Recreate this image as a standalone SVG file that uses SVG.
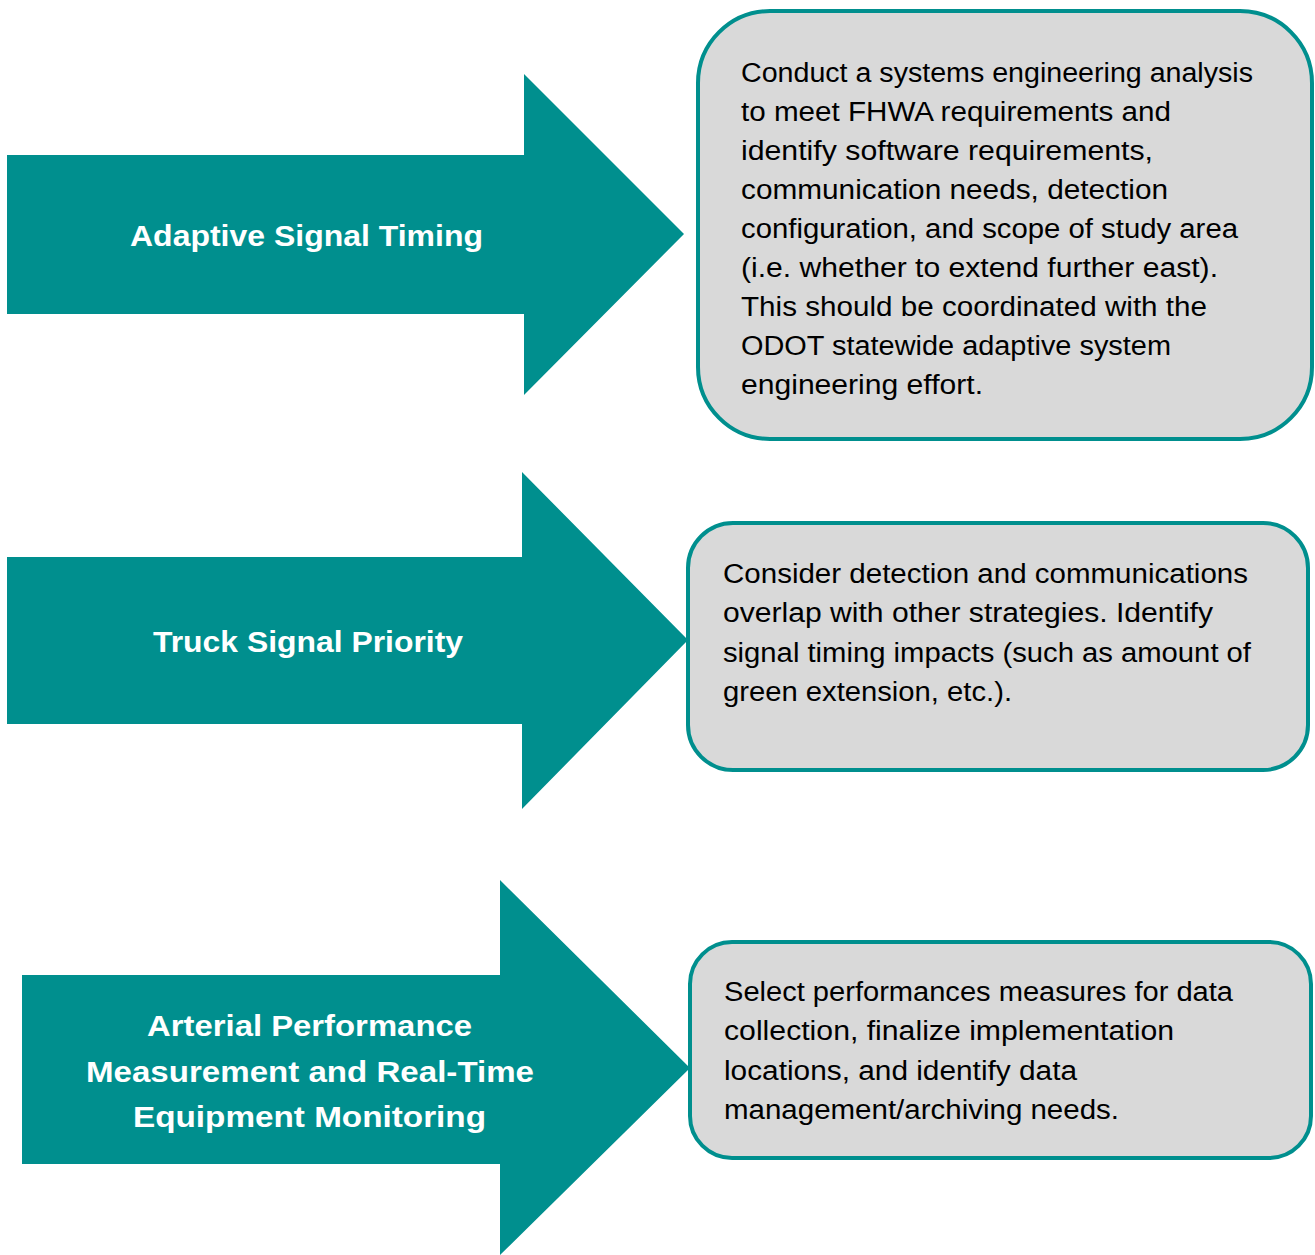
<svg xmlns="http://www.w3.org/2000/svg" width="1315" height="1255" viewBox="0 0 1315 1255">
<style>
.arrow{fill:#008F8E;}
.box{fill:#D9D9D9;stroke:#008F8E;stroke-width:4;}
.lbl{font-family:"Liberation Sans",Arial,sans-serif;font-weight:bold;font-size:30px;fill:#FFFFFF;}
.txt{font-family:"Liberation Sans",Arial,sans-serif;font-size:27px;fill:#000000;}
</style>
<rect width="1315" height="1255" fill="#FFFFFF"/>
<g id="arrow1">
<polygon class="arrow" points="7,155 524,155 524,74 684,234 524,395 524,314 7,314"/>
<text class="lbl" x="130" y="246" textLength="353" lengthAdjust="spacingAndGlyphs">Adaptive Signal Timing</text>
</g>
<g id="arrow2">
<polygon class="arrow" points="7,557 522,557 522,472 688,640 522,809 522,724 7,724"/>
<text class="lbl" x="153" y="652" textLength="310" lengthAdjust="spacingAndGlyphs">Truck Signal Priority</text>
</g>
<g id="arrow3">
<polygon class="arrow" points="22,975 500,975 500,880 690,1068 500,1255 500,1164 22,1164"/>
<text class="lbl" x="147" y="1036" textLength="325" lengthAdjust="spacingAndGlyphs">Arterial Performance</text>
<text class="lbl" x="86" y="1082" textLength="448" lengthAdjust="spacingAndGlyphs">Measurement and Real-Time</text>
<text class="lbl" x="133" y="1127" textLength="353" lengthAdjust="spacingAndGlyphs">Equipment Monitoring</text>
</g>
<g id="box1">
<rect class="box" x="698" y="11" width="614" height="428" rx="72" ry="72"/>
<text class="txt" x="741" y="82" textLength="512" lengthAdjust="spacingAndGlyphs">Conduct a systems engineering analysis</text>
<text class="txt" x="741" y="121" textLength="430" lengthAdjust="spacingAndGlyphs">to meet FHWA requirements and</text>
<text class="txt" x="741" y="160" textLength="412" lengthAdjust="spacingAndGlyphs">identify software requirements,</text>
<text class="txt" x="741" y="199" textLength="427" lengthAdjust="spacingAndGlyphs">communication needs, detection</text>
<text class="txt" x="741" y="238" textLength="497" lengthAdjust="spacingAndGlyphs">configuration, and scope of study area</text>
<text class="txt" x="741" y="277" textLength="477" lengthAdjust="spacingAndGlyphs">(i.e. whether to extend further east).</text>
<text class="txt" x="741" y="316" textLength="466" lengthAdjust="spacingAndGlyphs">This should be coordinated with the</text>
<text class="txt" x="741" y="355" textLength="430" lengthAdjust="spacingAndGlyphs">ODOT statewide adaptive system</text>
<text class="txt" x="741" y="394" textLength="242" lengthAdjust="spacingAndGlyphs">engineering effort.</text>
</g>
<g id="box2">
<rect class="box" x="688" y="523" width="620" height="247" rx="45" ry="45"/>
<text class="txt" x="723" y="583" textLength="525" lengthAdjust="spacingAndGlyphs">Consider detection and communications</text>
<text class="txt" x="723" y="622" textLength="490" lengthAdjust="spacingAndGlyphs">overlap with other strategies. Identify</text>
<text class="txt" x="723" y="662" textLength="528" lengthAdjust="spacingAndGlyphs">signal timing impacts (such as amount of</text>
<text class="txt" x="723" y="701" textLength="289" lengthAdjust="spacingAndGlyphs">green extension, etc.).</text>
</g>
<g id="box3">
<rect class="box" x="690" y="942" width="621" height="216" rx="42" ry="42"/>
<text class="txt" x="724" y="1001" textLength="509" lengthAdjust="spacingAndGlyphs">Select performances measures for data</text>
<text class="txt" x="724" y="1040" textLength="450" lengthAdjust="spacingAndGlyphs">collection, finalize implementation</text>
<text class="txt" x="724" y="1080" textLength="353" lengthAdjust="spacingAndGlyphs">locations, and identify data</text>
<text class="txt" x="724" y="1119" textLength="395" lengthAdjust="spacingAndGlyphs">management/archiving needs.</text>
</g>
<g id="connectors"></g>
</svg>
